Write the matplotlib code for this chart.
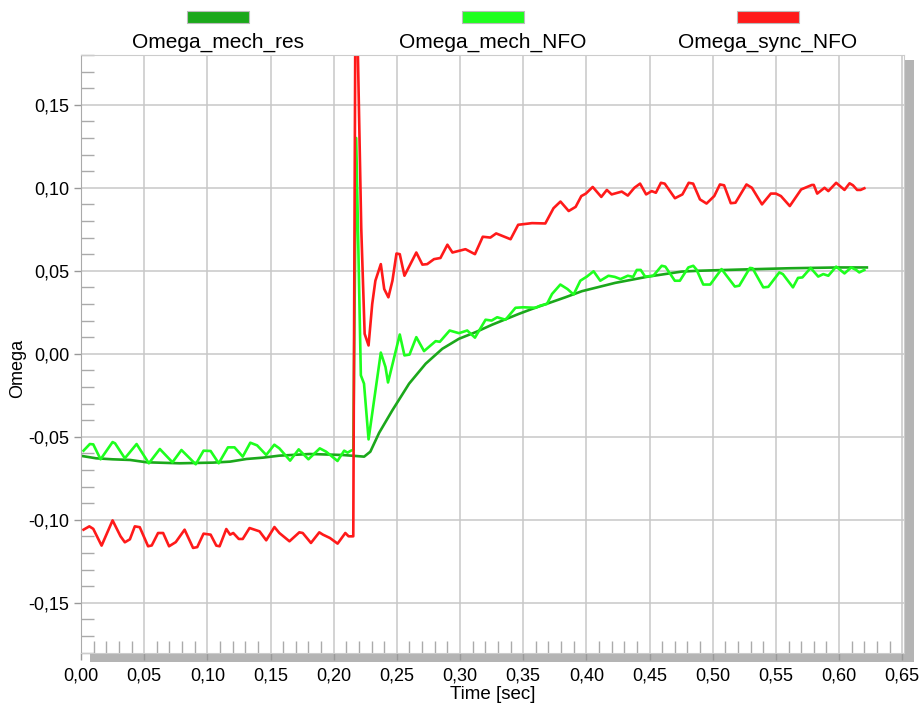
import matplotlib.pyplot as plt
from matplotlib.patches import Rectangle
from matplotlib.ticker import MultipleLocator, FuncFormatter

plt.rcParams['font.family'] = ['Liberation Sans', 'DejaVu Sans']

series_names = ['Omega_mech_res', 'Omega_mech_NFO', 'Omega_sync_NFO']
series_colors = ['#1BA81B', '#1EFF1E', '#FF1A1A']

# Omega_mech_res
t_res = [0.0, 0.012, 0.025, 0.039, 0.052, 0.078, 0.1045, 0.118, 0.131, 0.144,
         0.157, 0.181, 0.207, 0.2175, 0.2241, 0.229, 0.236, 0.2465, 0.2597,
         0.2728, 0.286, 0.2991, 0.3123, 0.3254, 0.3465, 0.357, 0.3833, 0.3965,
         0.4228, 0.449, 0.4754, 0.4886, 0.52, 0.56, 0.60, 0.622]
w_res = [-0.0615, -0.063, -0.0636, -0.064, -0.0654, -0.066, -0.0656, -0.065,
         -0.0634, -0.0626, -0.0614, -0.0604, -0.061, -0.0616, -0.062, -0.059,
         -0.0476, -0.034, -0.018, -0.006, 0.003, 0.009, 0.013, 0.0175, 0.024,
         0.027, 0.034, 0.0377, 0.0427, 0.0465, 0.0495, 0.050, 0.0507, 0.0515,
         0.052, 0.052]

# Omega_mech_NFO
t_mech = [0.002, 0.007, 0.0097, 0.0155, 0.025, 0.027, 0.0347, 0.044, 0.0537,
          0.0624, 0.0724, 0.0795, 0.0908, 0.097, 0.1026, 0.109, 0.1163, 0.1215,
          0.128, 0.134, 0.1394, 0.1466, 0.153, 0.157, 0.1655, 0.1723, 0.180,
          0.189, 0.194, 0.203, 0.2083, 0.211, 0.2136, 0.2155, 0.2178, 0.2215,
          0.224, 0.2276, 0.2373, 0.241, 0.243, 0.246, 0.2523, 0.256, 0.260,
          0.2654, 0.2715, 0.2807, 0.284, 0.2918, 0.2991, 0.3057, 0.3118, 0.3202,
          0.325, 0.3294, 0.336, 0.3439, 0.350, 0.3597, 0.3635, 0.3688, 0.3728,
          0.3794, 0.385, 0.3899, 0.3952, 0.4004, 0.4057, 0.411, 0.4175, 0.4225,
          0.427, 0.4328, 0.437, 0.4399, 0.443, 0.4465, 0.453, 0.4596, 0.4625,
          0.470, 0.474, 0.4807, 0.4846, 0.4872, 0.4925, 0.498, 0.507, 0.5175,
          0.521, 0.5294, 0.5315, 0.540, 0.544, 0.5527, 0.5555, 0.5635, 0.5675,
          0.571, 0.5775, 0.5835, 0.5875, 0.5915, 0.5977, 0.6043, 0.6096,
          0.6135, 0.616, 0.620]
w_mech = [-0.0584, -0.0544, -0.0546, -0.0636, -0.0532, -0.054, -0.063, -0.0544,
          -0.066, -0.0574, -0.0654, -0.058, -0.0666, -0.0584, -0.0586, -0.066,
          -0.0564, -0.0564, -0.062, -0.0536, -0.0552, -0.061, -0.0548, -0.057,
          -0.0644, -0.0576, -0.0636, -0.057, -0.059, -0.0646, -0.0584, -0.0596,
          -0.0584, -0.058, 0.130, -0.013, -0.018, -0.0516, 0.0007, -0.008,
          -0.0173, -0.008, 0.0116, -0.001, -0.0005, 0.010, 0.0016, 0.0076,
          0.0072, 0.014, 0.0124, 0.014, 0.0097, 0.0205, 0.020, 0.022, 0.0205,
          0.0277, 0.028, 0.0277, 0.029, 0.030, 0.036, 0.0417, 0.039, 0.0357,
          0.044, 0.0465, 0.0497, 0.044, 0.047, 0.0463, 0.045, 0.047, 0.0463,
          0.0505, 0.0505, 0.0465, 0.047, 0.053, 0.0525, 0.044, 0.044, 0.052,
          0.053, 0.0507, 0.0417, 0.0417, 0.051, 0.0405, 0.041, 0.0517, 0.0515,
          0.040, 0.0403, 0.049, 0.048, 0.040, 0.0457, 0.046, 0.0517, 0.0465,
          0.048, 0.047, 0.0525, 0.0484, 0.052, 0.0505, 0.049, 0.0505]

# Omega_sync_NFO
t_sync = [0.002, 0.0066, 0.0097, 0.0163, 0.025, 0.0313, 0.0347, 0.0387, 0.0426,
          0.0465, 0.0531, 0.056, 0.061, 0.065, 0.0697, 0.075, 0.082, 0.0887,
          0.092, 0.097, 0.1026, 0.1071, 0.1097, 0.115, 0.118, 0.1205, 0.1249,
          0.128, 0.1334, 0.1413, 0.1466, 0.1531, 0.157, 0.165, 0.1728, 0.1755,
          0.182, 0.1886, 0.1915, 0.197, 0.2031, 0.2092, 0.2118, 0.2155, 0.2174,
          0.2218, 0.2245, 0.2276, 0.2305, 0.233, 0.2373, 0.240, 0.2433, 0.2465,
          0.2497, 0.2523, 0.256, 0.2654, 0.2702, 0.274, 0.2794, 0.2845, 0.290,
          0.294, 0.3043, 0.3118, 0.318, 0.324, 0.3286, 0.340, 0.346, 0.357,
          0.3675, 0.374, 0.3795, 0.386, 0.3915, 0.396, 0.3996, 0.405, 0.4118,
          0.4162, 0.420, 0.428, 0.4328, 0.438, 0.4425, 0.4473, 0.4517, 0.455,
          0.459, 0.462, 0.4701, 0.476, 0.481, 0.4845, 0.4899, 0.4951, 0.5012,
          0.5057, 0.509, 0.5143, 0.518, 0.5267, 0.531, 0.539, 0.546, 0.550,
          0.554, 0.561, 0.570, 0.5785, 0.580, 0.5827, 0.5885, 0.5915, 0.5977,
          0.6043, 0.6083, 0.611, 0.6143, 0.617, 0.620]
w_sync = [-0.106, -0.104, -0.1055, -0.1156, -0.1004, -0.110, -0.1136, -0.1118,
          -0.104, -0.1045, -0.116, -0.1155, -0.108, -0.108, -0.116, -0.1135,
          -0.106, -0.117, -0.1165, -0.1084, -0.109, -0.1156, -0.116, -0.1056,
          -0.109, -0.108, -0.1116, -0.1116, -0.105, -0.107, -0.1124, -0.1044,
          -0.108, -0.113, -0.1076, -0.108, -0.114, -0.1076, -0.109, -0.111,
          -0.1144, -0.108, -0.110, -0.110, 0.25, 0.076, 0.012, 0.005, 0.030,
          0.044, 0.054, 0.039, 0.034, 0.044, 0.0604, 0.060, 0.047, 0.061,
          0.0537, 0.054, 0.057, 0.0577, 0.0657, 0.061, 0.063, 0.060, 0.0705,
          0.070, 0.0725, 0.069, 0.0777, 0.0787, 0.0785, 0.0877, 0.0917, 0.086,
          0.0885, 0.095, 0.0965, 0.1005, 0.0945, 0.0987, 0.096, 0.0977, 0.0953,
          0.100, 0.1025, 0.096, 0.098, 0.097, 0.103, 0.1025, 0.0937, 0.096,
          0.103, 0.1025, 0.093, 0.0905, 0.095, 0.102, 0.1015, 0.0907, 0.091,
          0.102, 0.100, 0.090, 0.0965, 0.0965, 0.095, 0.089, 0.099, 0.1017,
          0.1017, 0.0965, 0.100, 0.098, 0.103, 0.0987, 0.1027, 0.1015, 0.0987,
          0.0987, 0.0997]

fig = plt.figure(figsize=(9.22, 7.04), dpi=100)
W, H = 922, 704
ax_left, ax_right, ax_top, ax_bottom = 81, 903.5, 55, 652.5
ax = fig.add_axes([ax_left / W, 1 - ax_bottom / H,
                   (ax_right - ax_left) / W, (ax_bottom - ax_top) / H])

# drop shadow behind the plot area
shadow = Rectangle(((ax_left + 9) / W, 1 - (ax_bottom + 9.5) / H),
                   (ax_right - ax_left + 1) / W, (ax_bottom + 9.5 - 60) / H,
                   transform=fig.transFigure, facecolor='#b4b4b4',
                   edgecolor='none', zorder=-5)
fig.patches.append(shadow)

for t, w, c in zip([t_res, t_mech, t_sync], [w_res, w_mech, w_sync], series_colors):
    ax.plot(t, w, color=c, lw=1.9, solid_joinstyle='round')

ax.set_xlim(0, 0.651)
ax.set_ylim(-0.18, 0.18)

ax.xaxis.set_major_locator(MultipleLocator(0.05))
ax.xaxis.set_minor_locator(MultipleLocator(0.01))
ax.yaxis.set_major_locator(MultipleLocator(0.05))
ax.yaxis.set_minor_locator(MultipleLocator(0.01))

comma = FuncFormatter(lambda v, p: f'{v:.2f}'.replace('.', ',').replace('-0,00', '0,00'))
ax.xaxis.set_major_formatter(comma)
ax.yaxis.set_major_formatter(comma)

ax.grid(True, which='major', color='#c8c8c8', lw=1.1)
ax.set_axisbelow(True)

ax.tick_params(which='major', direction='out', length=5, color='#999999',
               labelsize=13, width=1)
ax.tick_params(axis='x', which='major', pad=6)
ax.tick_params(which='minor', direction='in', length=9, color='#aaaaaa', width=1)

for side in ['top', 'right', 'bottom']:
    ax.spines[side].set_color('#cccccc')
ax.spines['left'].set_color('#aaaaaa')

# axis titles
fig.text(493 / W, 1 / H, 'Time [sec]', ha='center', va='bottom', fontsize=13.5)
fig.text(18 / W, 1 - 368 / H, 'Omega', ha='center', va='center',
         rotation=90, fontsize=13)

# legend across the top
legend_x = [218, 493, 768]
for name, c, xc in zip(series_names, series_colors, legend_x):
    fig.patches.append(Rectangle(((xc - 31) / W, 1 - 23 / H), 62 / W, 12 / H,
                                 transform=fig.transFigure, facecolor=c,
                                 edgecolor='#bbbbbb', lw=0.8))
    fig.text(xc / W, 1 - 42 / H, name, ha='center', va='center', fontsize=15)

plt.savefig('out.png', dpi=100)
